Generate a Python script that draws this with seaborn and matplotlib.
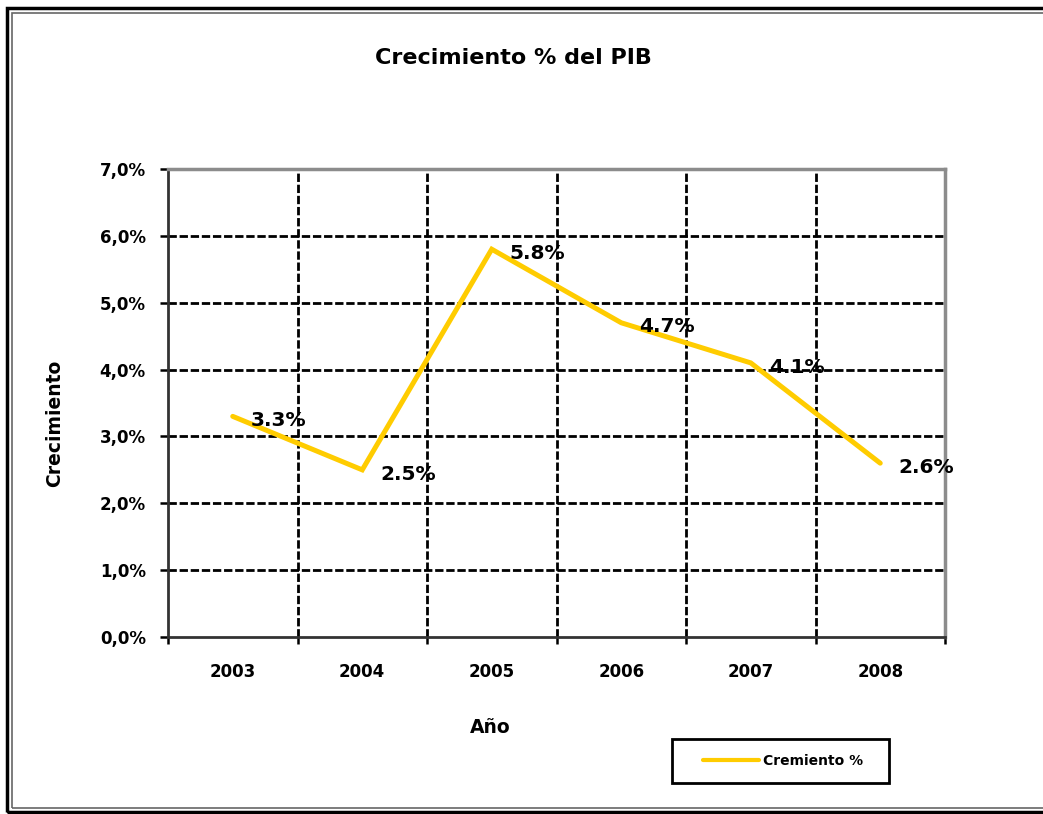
import matplotlib
matplotlib.use("Agg")
import matplotlib.pyplot as plt
import seaborn as sns
import pandas as pd
from matplotlib.ticker import FixedLocator, FuncFormatter
from matplotlib.lines import Line2D
from matplotlib.patches import Rectangle

years = ["2003", "2004", "2005", "2006", "2007", "2008"]
growth = [3.3, 2.5, 5.8, 4.7, 4.1, 2.6]
yticks = [0, 1, 2, 3, 4, 5, 6, 7]
series_name = "Cremiento %"
title = "Crecimiento % del PIB"
xlabel = "Año"
ylabel = "Crecimiento"

sns.set_style("white")
plt.rcParams['font.family'] = ['DejaVu Sans']
plt.rcParams['text.color'] = 'black'
plt.rcParams['axes.labelcolor'] = 'black'
plt.rcParams['xtick.color'] = 'black'
plt.rcParams['ytick.color'] = 'black'

df = pd.DataFrame({"Año": years, "Crecimiento": growth})

fig = plt.figure(figsize=(10.43, 8.14), dpi=100)
ax = fig.add_axes([168/1043, 1-637/814, (945-168)/1043, (637-169)/814])

sns.lineplot(data=df, x="Año", y="Crecimiento", ax=ax, color="#FFCC00",
             linewidth=3.6, sort=False, legend=False, solid_joinstyle="miter", zorder=3)

ax.set_xlim(-0.5, len(years) - 0.5)
ax.set_ylim(0, 7)

# grid
dash = (0, (3, 1))
for v in yticks[1:-1]:
    ax.axhline(v, color="black", linestyle=dash, linewidth=2, zorder=1)
for b in range(1, len(years)):
    ax.axvline(b - 0.5, color="black", linestyle=dash, linewidth=2, zorder=1)

ax.set_yticks(yticks)
ax.yaxis.set_major_formatter(FuncFormatter(lambda v, p: f"{v:.1f}%".replace(".", ",")))
ax.xaxis.set_major_locator(FixedLocator([i - 0.5 for i in range(len(years) + 1)]))
ax.xaxis.set_major_formatter(FuncFormatter(lambda v, p: ""))
ax.set_xticks(range(len(years)), years, minor=True)
ax.tick_params(axis="x", which="minor", bottom=False, length=0, pad=18.5, labelsize=12)
ax.tick_params(axis="x", which="major", bottom=True, direction="out", length=5, width=1.8, color="black")
ax.tick_params(axis="y", left=True, direction="out", length=6, width=1.8, color="black", labelsize=12, pad=10)
for lab in ax.get_xticklabels(minor=True) + ax.get_yticklabels():
    lab.set_fontweight("bold")

for s in ["left", "bottom"]:
    ax.spines[s].set_color("#333333")
    ax.spines[s].set_linewidth(2)
for s in ["top", "right"]:
    ax.spines[s].set_color("#8c8c8c")
    ax.spines[s].set_linewidth(2.5)

for i, v in enumerate(growth):
    ax.annotate(f"{v:.1f}%", (i, v), xytext=(13, -3), textcoords="offset points",
                ha="left", va="center", fontsize=14.5, fontweight="bold", zorder=5)

ax.set_xlabel(xlabel, fontsize=13.5, fontweight="bold")
ax.xaxis.set_label_coords((490-168)/(945-168), -(718-637)/(637-169))
ax.set_ylabel(ylabel, fontsize=13.5, fontweight="bold")
ax.yaxis.set_label_coords(-(168-64)/(945-168), (637-423)/(637-169))
fig.text(513/1043, 1-58/814, title, ha="center", va="center", fontsize=16, fontweight="bold")

# legend
fig.patches.append(Rectangle((672/1043, 1-783/814), (889-672)/1043, (783-739)/814,
                             transform=fig.transFigure, fill=False, edgecolor="black",
                             linewidth=2, zorder=5))
handle = Line2D([], [], color="#FFCC00", linewidth=3)
leg = fig.legend([handle], [series_name], loc="center left", bbox_to_anchor=(703/1043, 1-761/814),
                 frameon=False, handlelength=4, handletextpad=0.3,
                 prop={"weight": "bold", "size": 10}, borderpad=0, borderaxespad=0)

# outer frame
fig.patches.append(Rectangle((7/1043, 1-812/814), 1.2, (812-8)/814, transform=fig.transFigure,
                             fill=False, edgecolor="black", linewidth=2.5))
fig.patches.append(Rectangle((12/1043, 1-808/814), 1.2, (808-13)/814, transform=fig.transFigure,
                             fill=False, edgecolor="#666666", linewidth=1.2))

fig.savefig("out.png", dpi=100)
